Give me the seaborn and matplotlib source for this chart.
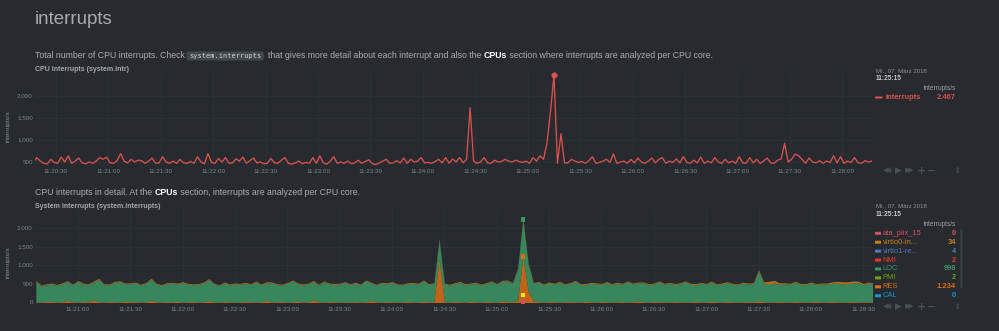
import matplotlib
matplotlib.use("Agg")
import matplotlib.pyplot as plt
import matplotlib.dates as mdates
from matplotlib.patches import FancyBboxPatch
from matplotlib.ticker import FixedLocator, FuncFormatter
from matplotlib.transforms import IdentityTransform
import pandas as pd
import seaborn as sns

# ---------------- CPU Interrupts (system.intr): one sample every 2 s ----------------
intr_start = "2018-03-07 11:20:17"
intr_step = "2s"
intr_values = [
    480, 600, 520, 470, 455, 560, 490, 470, 610, 500, 640, 470, 520, 590, 480, 460, 500, 470, 520, 600,
    560, 610, 480, 470, 530, 690, 520, 480, 560, 500, 540, 530, 470, 520, 590, 470, 480, 620, 500, 470,
    520, 470, 560, 480, 470, 510, 470, 620, 500, 460, 690, 490, 470, 580, 500, 600, 470, 480, 570, 520,
    610, 470, 530, 590, 480, 500, 460, 470, 580, 480, 470, 540, 600, 470, 450, 480, 520, 460, 490, 470,
    600, 470, 640, 480, 450, 520, 620, 470, 500, 470, 520, 460, 480, 540, 470, 510, 550, 460, 440, 480,
    520, 560, 470, 480, 530, 480, 590, 470, 560, 500, 520, 600, 480, 490, 470, 510, 560, 480, 600, 470,
    570, 500, 600, 480, 560, 1730, 520, 470, 500, 600, 480, 470, 540, 500, 510, 560, 520, 500, 540, 510,
    490, 520, 470, 600, 520, 640, 560, 930, 1650, 2467, 470, 1140, 480, 480, 560, 520, 490, 510, 470, 530,
    620, 470, 490, 520, 560, 490, 680, 470, 500, 520, 470, 560, 480, 590, 500, 470, 520, 590, 480, 560,
    600, 470, 520, 490, 570, 480, 620, 490, 470, 540, 480, 610, 470, 520, 480, 600, 500, 470, 560, 480,
    520, 470, 620, 480, 470, 600, 480, 560, 470, 520, 590, 480, 470, 540, 570, 925, 500, 560, 680, 640,
    560, 470, 590, 500, 480, 530, 470, 520, 490, 640, 480, 620, 470, 520, 490, 600, 480, 470, 530, 500,
    520,
]
intr_yticks = [500, 1000, 1500, 2000]

# ---------------- System interrupts (system.interrupts): one sample every 3 s ----------------
irq_start = "2018-03-07 11:20:36"
irq_step = "3s"
irq_yticks = [0, 500, 1000, 1500, 2000]

ata_piix_15 = [0] * 161
virtio0_in = [
    25, 20, 22, 18, 20, 25, 22, 20, 18, 24, 20, 22, 25, 20, 18, 22, 24, 20, 22, 20,
    20, 22, 25, 20, 18, 22, 20, 24, 20, 22, 18, 20, 25, 22, 20, 18, 22, 20, 24, 20,
    22, 20, 18, 24, 20, 22, 25, 20, 18, 22, 20, 24, 20, 22, 18, 20, 22, 25, 20, 18,
    20, 24, 22, 20, 18, 22, 20, 25, 22, 20, 18, 22, 20, 24, 20, 22, 18, 30, 22, 20,
    24, 20, 22, 18, 20, 25, 22, 20, 18, 22, 20, 24, 25, 34, 25, 22, 20, 18, 22, 20,
    22, 20, 24, 20, 18, 22, 20, 25, 22, 20, 18, 22, 24, 20, 22, 20, 18, 22, 20, 24,
    20, 22, 18, 24, 20, 22, 25, 20, 18, 22, 20, 24, 22, 20, 18, 22, 20, 30, 30, 45,
    80, 70, 40, 25, 22, 20, 24, 20, 22, 18, 22, 25, 35, 45, 55, 60, 50, 40, 30, 25,
    22,
]
virtio1_re = [
    4, 3, 4, 5, 4, 3, 4, 4, 5, 3, 4, 4, 3, 5, 4, 4, 3, 4, 5, 4,
    3, 4, 4, 5, 3, 4, 4, 3, 4, 5, 4, 3, 4, 4, 5, 3, 4, 4, 3, 4,
    5, 4, 3, 4, 4, 5, 3, 4, 4, 3, 4, 5, 4, 3, 4, 4, 5, 3, 4, 4,
    3, 4, 5, 4, 3, 4, 4, 5, 3, 4, 4, 3, 4, 5, 4, 3, 4, 4, 5, 3,
    4, 4, 3, 5, 4, 3, 4, 4, 5, 3, 4, 4, 3, 4, 5, 4, 3, 4, 4, 5,
    3, 4, 4, 5, 4, 3, 4, 5, 4, 3, 4, 4, 5, 3, 4, 4, 3, 5, 4, 4,
    4, 3, 5, 4, 4, 3, 4, 4, 5, 4, 3, 4, 4, 5, 3, 4, 4, 3, 4, 5,
    4, 4, 3, 4, 5, 4, 3, 4, 4, 5, 4, 3, 4, 4, 3, 5, 4, 4, 3, 4,
    4,
]
nmi = [
    0, 1, 0, 0, 2, 0, 1, 0, 0, 0, 1, 0, 2, 0, 0, 1, 0, 0, 0, 1,
    0, 0, 1, 0, 0, 2, 0, 0, 1, 0, 0, 0, 1, 0, 2, 0, 0, 1, 0, 0,
    1, 0, 0, 0, 2, 0, 0, 1, 0, 0, 1, 0, 0, 2, 0, 0, 0, 1, 0, 0,
    0, 2, 0, 0, 1, 0, 0, 0, 1, 0, 0, 2, 0, 0, 1, 0, 0, 1, 0, 0,
    0, 1, 0, 0, 2, 0, 0, 1, 0, 0, 0, 1, 0, 2, 1, 0, 0, 0, 1, 0,
    0, 0, 1, 0, 0, 2, 0, 0, 1, 0, 0, 0, 1, 0, 0, 2, 0, 0, 1, 0,
    1, 0, 0, 2, 0, 0, 1, 0, 0, 0, 1, 0, 0, 2, 0, 0, 1, 0, 0, 0,
    0, 1, 0, 0, 2, 0, 0, 1, 0, 0, 1, 0, 0, 0, 2, 0, 0, 1, 0, 0,
    1,
]
loc = [
    540, 430, 450, 470, 440, 480, 500, 450, 550, 470, 460, 480, 600, 460, 450, 520, 540, 470, 480, 500,
    450, 490, 560, 470, 440, 480, 500, 460, 520, 470, 450, 470, 500, 560, 470, 440, 500, 450, 480, 470,
    490, 460, 540, 450, 470, 510, 460, 440, 500, 560, 470, 450, 480, 500, 450, 540, 470, 460, 480, 520,
    460, 490, 450, 560, 470, 440, 500, 470, 520, 460, 450, 480, 500, 470, 550, 460, 480, 500, 470, 450,
    480, 520, 460, 470, 500, 450, 480, 540, 470, 520, 560, 480, 840, 998, 750, 470, 520, 460, 500, 470,
    530, 460, 480, 550, 470, 450, 500, 480, 460, 520, 470, 500, 460, 540, 470, 480, 510, 460, 470, 530,
    470, 500, 460, 480, 540, 470, 450, 500, 470, 520, 460, 480, 510, 470, 460, 500, 470, 480, 800, 480,
    470, 500, 460, 480, 470, 520, 460, 470, 500, 460, 480, 470, 490, 500, 480, 470, 500, 510, 460, 500,
    480,
]
pmi = [
    1, 0, 0, 2, 0, 0, 1, 0, 0, 1, 0, 0, 0, 2, 0, 0, 1, 0, 0, 0,
    2, 0, 0, 1, 0, 0, 0, 1, 0, 0, 2, 0, 0, 1, 0, 0, 0, 2, 0, 0,
    0, 1, 0, 0, 0, 2, 0, 0, 1, 0, 0, 1, 0, 0, 0, 2, 0, 0, 1, 0,
    0, 0, 1, 0, 0, 0, 2, 0, 0, 1, 0, 0, 1, 0, 0, 0, 2, 0, 0, 1,
    0, 0, 2, 0, 0, 1, 0, 0, 0, 1, 0, 0, 1, 2, 0, 0, 1, 0, 0, 2,
    0, 1, 0, 0, 1, 0, 0, 2, 0, 0, 0, 1, 0, 0, 2, 0, 0, 1, 0, 0,
    0, 0, 1, 0, 0, 0, 2, 0, 0, 1, 0, 0, 0, 1, 0, 0, 2, 0, 0, 1,
    0, 2, 0, 0, 0, 1, 0, 0, 1, 0, 0, 2, 0, 0, 0, 1, 0, 0, 2, 0,
    0,
]
res = [
    20, 15, 25, 30, 15, 20, 60, 20, 15, 25, 20, 70, 20, 15, 25, 20, 15, 30, 20, 25,
    15, 20, 65, 20, 15, 25, 20, 30, 15, 20, 25, 15, 20, 55, 20, 15, 25, 20, 15, 20,
    25, 20, 15, 20, 60, 15, 20, 25, 15, 20, 30, 15, 20, 65, 20, 15, 25, 20, 15, 20,
    20, 25, 15, 20, 55, 20, 15, 25, 20, 15, 20, 25, 15, 20, 30, 20, 25, 1180, 20, 15,
    25, 20, 15, 30, 20, 15, 25, 20, 15, 50, 20, 25, 60, 1234, 300, 40, 20, 15, 25, 20,
    15, 20, 25, 20, 15, 30, 20, 15, 25, 20, 15, 20, 25, 15, 20, 45, 20, 15, 25, 20,
    20, 15, 25, 20, 15, 20, 25, 15, 20, 30, 20, 15, 25, 20, 15, 20, 25, 20, 50, 20,
    15, 20, 25, 20, 15, 25, 20, 15, 20, 25, 15, 20, 25, 20, 15, 20, 25, 20, 15, 20,
    20,
]
cal = [0] * 161

irq_names = ["ata_piix_15", "virtio0-in...", "virtio1-re...", "NMI", "LOC", "PMI", "RES", "CAL"]
irq_series = [ata_piix_15, virtio0_in, virtio1_re, nmi, loc, pmi, res, cal]
irq_colors = ["#d4525c", "#c8801a", "#4a7cc0", "#e63a36", "#3c9664", "#6ea014", "#dc6e14", "#1496d2"]

hover_time = "2018-03-07 11:25:15"
hover_date_label = "Mi., 07. März 2018"
# extra highlight dots near the base of the stacked chart at the selected time
hover_low_dots = [200, 30]
hover_low_colors = ["#e6e619", "#d4525c"]

# ---------------- styling ----------------
W, H = 999, 331
BG = "#272b30"
GRID = "#2e3338"
TICK = "#7f8489"
TEXT = "#a8abae"

sns.set_theme(style="dark", rc={
    "axes.facecolor": BG, "figure.facecolor": BG, "savefig.facecolor": BG,
    "grid.color": GRID, "axes.edgecolor": BG,
})
plt.rcParams["font.family"] = ["Liberation Sans", "DejaVu Sans"]

fig = plt.figure(figsize=(W / 100, H / 100), dpi=100)
fig.patch.set_facecolor(BG)
renderer = fig.canvas.get_renderer()


def px_axes(left, top, right, bottom):
    return fig.add_axes([left / W, 1 - bottom / H, (right - left) / W, (bottom - top) / H])


def put(x, y, s, **kw):
    kw.setdefault("va", "center")
    return fig.text(x / W, 1 - y / H, s, **kw)


def box_px(x0, y0, w, h, color, rounding=0.0):
    """Rectangle given in top-left pixel coordinates."""
    patch = FancyBboxPatch((x0, H - y0 - h), w, h,
                           boxstyle=f"round,pad=0,rounding_size={rounding}",
                           transform=IdentityTransform(), fc=color, ec="none", zorder=1)
    fig.add_artist(patch)
    return patch


def inline_text(x, y, parts, size):
    for s, style in parts:
        if style == "code":
            t = put(x + 4, y, s, fontsize=size * 0.8, family="DejaVu Sans Mono",
                    color="#d0d3d6", zorder=3)
            bb = t.get_window_extent(renderer)
            patch = FancyBboxPatch((bb.x0 - 2.5, bb.y0 - 1.5), bb.width + 5, bb.height + 3,
                                   boxstyle="round,pad=0,rounding_size=2",
                                   transform=IdentityTransform(), fc="#42474d", ec="none",
                                   zorder=2)
            fig.add_artist(patch)
            x = bb.x1 + 6.5
        else:
            kw = dict(color=TEXT)
            if style == "link":
                kw = dict(color="#ffffff", fontweight="bold")
            t = put(x, y, s, fontsize=size, **kw)
            bb = t.get_window_extent(renderer)
            x = bb.x1


def thousands(v, _pos=None):
    return f"{int(round(v)):,}".replace(",", ".")


def sample_index(start, step, when):
    return int((pd.Timestamp(when) - pd.Timestamp(start)) / pd.Timedelta(step))


def style_axis(ax, yticks, t_left, t_right, ymin, ymax, xpad):
    ax.set_xlim(mdates.date2num(pd.Timestamp(t_left)), mdates.date2num(pd.Timestamp(t_right)))
    ax.set_ylim(ymin, ymax)
    ax.xaxis.set_major_locator(mdates.SecondLocator(bysecond=[0, 30]))
    ax.xaxis.set_major_formatter(mdates.DateFormatter("%H:%M:%S"))
    ax.yaxis.set_major_locator(FixedLocator(yticks))
    ax.yaxis.set_major_formatter(FuncFormatter(thousands))
    ax.tick_params(axis="both", length=0, labelsize=4.5, labelcolor=TICK)
    ax.tick_params(axis="y", pad=1.6)
    ax.tick_params(axis="x", pad=xpad)
    ax.grid(True, color=GRID, linewidth=0.6)
    for sp in ax.spines.values():
        sp.set_visible(False)
    ax.set_xlabel("")
    ax.set_ylabel("")


# ---------------- headings ----------------
put(35, 20, "interrupts", fontsize=13.5, color="#a6a9ad")
inline_text(35, 56, [
    ("Total number of CPU interrupts. Check", "text"),
    ("system.interrupts", "code"),
    ("that gives more detail about each interrupt and also the ", "text"),
    ("CPUs", "link"),
    (" section where interrupts are analyzed per CPU core.", "text"),
], 6.32)

# ---------------- chart 1: system.intr ----------------
put(35, 69.5, "CPU Interrupts (system.intr)", fontsize=5.0, fontweight="bold", color="#a4a7aa")
put(8, 126, "interrupts/s", fontsize=4.6, color="#8a8f94", rotation=90, ha="center")

intr_df = pd.DataFrame({
    "time": mdates.date2num(pd.date_range(intr_start, periods=len(intr_values), freq=intr_step)),
    "interrupts": intr_values,
})
ax1 = px_axes(35, 73, 872, 165.5)
sns.lineplot(data=intr_df, x="time", y="interrupts", ax=ax1, color="#d9514f", linewidth=0.95)
style_axis(ax1, intr_yticks, "2018-03-07 11:20:18", "2018-03-07 11:28:17", 420, 2520, 2.6)

hi1 = sample_index(intr_start, intr_step, hover_time)
hover_x1 = intr_df["time"].iloc[hi1]
hover_intr = intr_df["interrupts"].iloc[hi1]
ax1.plot([hover_x1], [hover_intr], marker="o", ms=3.4, color="#d9514f", mec="#d9514f",
         clip_on=False)

# legend panel for chart 1
put(876, 70.5, hover_date_label, fontsize=4.4, color="#8d9196")
put(876, 79, hover_time[-8:], fontsize=4.8, fontweight="bold", color="#c3c6c9")
put(956, 89, "interrupts/s", fontsize=4.7, color="#9da1a5", ha="right")
box_px(875, 96.5, 7.5, 2, "#d9514f")
put(885, 97.5, "interrupts", fontsize=5.4, color="#d9514f", fontweight="bold")
put(956, 97.5, thousands(hover_intr), fontsize=5.4, color="#d9514f", fontweight="bold", ha="right")

# ---------------- chart 2: system.interrupts ----------------
inline_text(35, 192.5, [
    ("CPU interrupts in detail. At the ", "text"),
    ("CPUs", "link"),
    (" section, interrupts are analyzed per CPU core.", "text"),
], 6.32)
put(35, 206, "System interrupts (system.interrupts)", fontsize=5.0, fontweight="bold",
    color="#a4a7aa")
put(8, 262, "interrupts/s", fontsize=4.6, color="#8a8f94", rotation=90, ha="center")

irq_df = pd.DataFrame({"time": mdates.date2num(
    pd.date_range(irq_start, periods=len(loc), freq=irq_step))})
for name, vals in zip(irq_names, irq_series):
    irq_df[name] = vals

ax2 = px_axes(35, 209.5, 872, 302.5)
# stacking order: first dimension ends up on top, last at the bottom
stack_order = list(range(len(irq_names)))[::-1]
ax2.stackplot(irq_df["time"], [irq_df[irq_names[i]] for i in stack_order],
              colors=[irq_colors[i] for i in stack_order], alpha=0.86, linewidth=0)
style_axis(ax2, irq_yticks, "2018-03-07 11:20:35.5", "2018-03-07 11:28:35", 0, 2500, 3.0)

hi2 = sample_index(irq_start, irq_step, hover_time)
hover_x2 = irq_df["time"].iloc[hi2]
hover_row = irq_df.iloc[hi2]
cum = 0
tops = {}
for i in stack_order:
    cum += hover_row[irq_names[i]]
    tops[irq_names[i]] = cum
hover_pts = pd.DataFrame({
    "time": [hover_x2] * 4,
    "value": [tops["LOC"], tops["RES"]] + hover_low_dots,
    "c": ["#3c9664", "#dc6e14"] + hover_low_colors,
})
sns.scatterplot(data=hover_pts, x="time", y="value", ax=ax2, c=hover_pts["c"], marker="s",
                s=11, linewidth=0, zorder=5, clip_on=False)
ax2.set_xlabel("")
ax2.set_ylabel("")

# legend panel for chart 2
put(876, 205.7, hover_date_label, fontsize=4.4, color="#8d9196")
put(876, 215, hover_time[-8:], fontsize=4.8, fontweight="bold", color="#c3c6c9")
put(956, 224.3, "interrupts/s", fontsize=4.7, color="#9da1a5", ha="right")
for k, (name, color) in enumerate(zip(irq_names, irq_colors)):
    y = 233.3 + k * 8.92
    box_px(875, y - 1.5, 6, 3, color)
    put(882.5, y, name, fontsize=5.4, color=color)
    put(956, y, thousands(hover_row[name]), fontsize=5.4, color=color, fontweight="bold",
        ha="right")
box_px(960.3, 229, 2, 59, "#3a3f45")

# ---------------- chart toolbar icons ----------------
ICON = "#4b5056"
for y in (170.5, 306.5):
    put(885.5, y, "◀", fontsize=5.0, color=ICON, ha="center", family="DejaVu Sans")
    put(889.0, y, "◀", fontsize=5.0, color=ICON, ha="center", family="DejaVu Sans")
    put(898.0, y, "▶", fontsize=6.2, color=ICON, ha="center", family="DejaVu Sans")
    put(907.5, y, "▶", fontsize=5.0, color=ICON, ha="center", family="DejaVu Sans")
    put(911.0, y, "▶", fontsize=5.0, color=ICON, ha="center", family="DejaVu Sans")
    put(921.0, y, "+", fontsize=8.0, color=ICON, ha="center", fontweight="bold",
        family="DejaVu Sans")
    put(932.0, y, "−", fontsize=8.0, color=ICON, ha="center", fontweight="bold",
        family="DejaVu Sans")
    put(957.3, y - 2.2, "▲", fontsize=3.0, color=ICON, ha="center", family="DejaVu Sans")
    put(957.3, y + 2.2, "▼", fontsize=3.0, color=ICON, ha="center", family="DejaVu Sans")

fig.savefig("out.png", dpi=100, facecolor=BG)
